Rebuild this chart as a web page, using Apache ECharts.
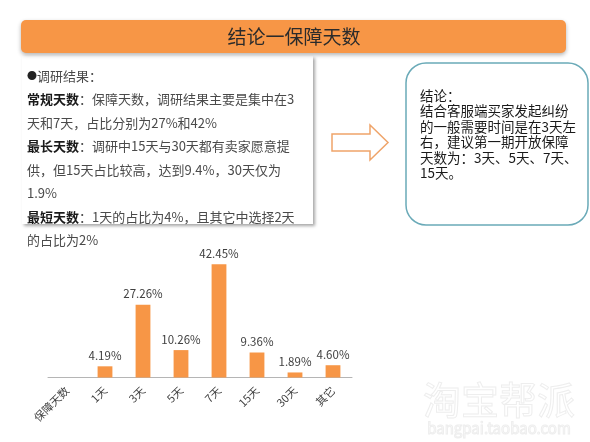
<!DOCTYPE html>
<html>
<head>
<meta charset="utf-8">
<script src="https://cdn.jsdelivr.net/npm/echarts@6/dist/echarts.min.js"></script>
<style>
  html, body { margin: 0; padding: 0; background: #fff; }
  #main { width: 590px; height: 442px; }
</style>
</head>
<body>
<div id="main"></div>
<script>
// 保障天数调研结果
const categories = ["保障天数", "1天", "3天", "5天", "7天", "15天", "30天", "其它"];
const shares = [null, 4.19, 27.26, 10.26, 42.45, 9.36, 1.89, 4.6];

const titleText = "结论一保障天数";
const leftLines = [
  "{dot|●}{t|调研结果：}",
  "{b|常规天数}{t|：保障天数，调研结果主要是集中在3}",
  "{t|天和7天，占比分别为27%和42%}",
  "{b|最长天数}{t|：调研中15天与30天都有卖家愿意提}",
  "{t|供，但15天占比较高，达到9.4%，30天仅为}",
  "{t|1.9%}",
  "{b|最短天数}{t|：1天的占比为4%，且其它中选择2天}",
  "{t|的占比为2%}"
];
const rightLines = [
  "结论：",
  "结合客服端买家发起纠纷",
  "的一般需要时间是在3天左",
  "右，建议第一期开放保障",
  "天数为：3天、5天、7天、",
  "15天。"
];

const FONT = "'Noto Sans CJK SC', 'Noto Sans', sans-serif";
const ORANGE = "#F79646";

const chart = echarts.init(document.getElementById("main"));

const option = {
  backgroundColor: "#fff",
  animation: false,
  textStyle: { fontFamily: FONT },
  grid: {
    left: 48,
    width: 304,
    top: 260,
    bottom: 64.5,
    containLabel: false
  },
  xAxis: {
    type: "category",
    data: categories,
    axisLine: { show: true, lineStyle: { color: "#b5b5b5", width: 1 } },
    axisTick: { show: false },
    axisLabel: {
      rotate: 45,
      interval: 0,
      margin: 11,
      color: "#404040",
      fontSize: 11,
      fontFamily: FONT
    }
  },
  yAxis: {
    type: "value",
    min: 0,
    max: 44,
    show: false,
    splitLine: { show: false }
  },
  series: [
    {
      type: "bar",
      data: shares,
      barWidth: "39%",
      itemStyle: { color: ORANGE },
      label: {
        show: true,
        position: "top",
        distance: 5,
        color: "#404040",
        fontSize: 11.5,
        fontFamily: FONT,
        formatter: function (p) {
          return p.value == null ? "" : p.value.toFixed(2) + "%";
        }
      }
    }
  ],
  graphic: [
    // 标题条
    {
      type: "rect",
      shape: { x: 21, y: 20, width: 545, height: 33, r: 5 },
      style: {
        fill: ORANGE,
        shadowBlur: 4,
        shadowOffsetY: 2,
        shadowColor: "rgba(0,0,0,0.3)"
      },
      z: 10
    },
    {
      type: "text",
      x: 294,
      y: 36.5,
      style: {
        text: titleText,
        fill: "#2b2b2b",
        fontSize: 19,
        fontFamily: FONT,
        align: "center",
        verticalAlign: "middle"
      },
      z: 11
    },
    // 左侧文本框
    {
      type: "rect",
      shape: { x: 22, y: 56, width: 291, height: 168 },
      style: {
        fill: "#fff",
        shadowBlur: 3,
        shadowOffsetX: 2,
        shadowOffsetY: 2,
        shadowColor: "rgba(0,0,0,0.35)"
      },
      z: 5
    },
    {
      type: "text",
      x: 27,
      y: 64,
      style: {
        text: leftLines.join("\n"),
        fontFamily: FONT,
        rich: {
          dot: { fontSize: 10, lineHeight: 23.5, fill: "#222", fontFamily: FONT },
          b: { fontSize: 13, lineHeight: 23.5, fill: "#1a1a1a", fontWeight: "bold", fontFamily: FONT },
          t: { fontSize: 13, lineHeight: 23.5, fill: "#4a4a4a", fontFamily: FONT }
        }
      },
      z: 12
    },
    // 箭头
    {
      type: "polygon",
      shape: {
        points: [[332, 134], [370, 134], [370, 125], [388, 142.5], [370, 160], [370, 151], [332, 151]]
      },
      style: { fill: "#fff", stroke: "#EFA46A", lineWidth: 1.5 },
      z: 10
    },
    // 右侧结论框
    {
      type: "rect",
      shape: { x: 406, y: 63, width: 182, height: 162, r: 20 },
      style: { fill: "#fff", stroke: "#6AAAB8", lineWidth: 1.5 },
      z: 10
    },
    {
      type: "text",
      x: 420,
      y: 88,
      style: {
        text: rightLines.join("\n"),
        fill: "#1a1a1a",
        fontSize: 13.5,
        lineHeight: 15.5,
        fontFamily: FONT
      },
      z: 11
    },
    // 水印
    {
      type: "text",
      x: 499,
      y: 400,
      style: {
        text: "淘宝帮派",
        fill: "rgba(0,0,0,0)",
        stroke: "#eeeeee",
        lineWidth: 1,
        fontSize: 38,
        fontFamily: FONT,
        align: "center",
        verticalAlign: "middle"
      },
      z: 1
    },
    {
      type: "text",
      x: 499,
      y: 428,
      style: {
        text: "bangpai.taobao.com",
        fill: "rgba(0,0,0,0)",
        stroke: "#eeeeee",
        lineWidth: 1,
        fontSize: 15,
        fontFamily: FONT,
        align: "center",
        verticalAlign: "middle"
      },
      z: 1
    }
  ]
};

chart.setOption(option);
</script>
</body>
</html>
